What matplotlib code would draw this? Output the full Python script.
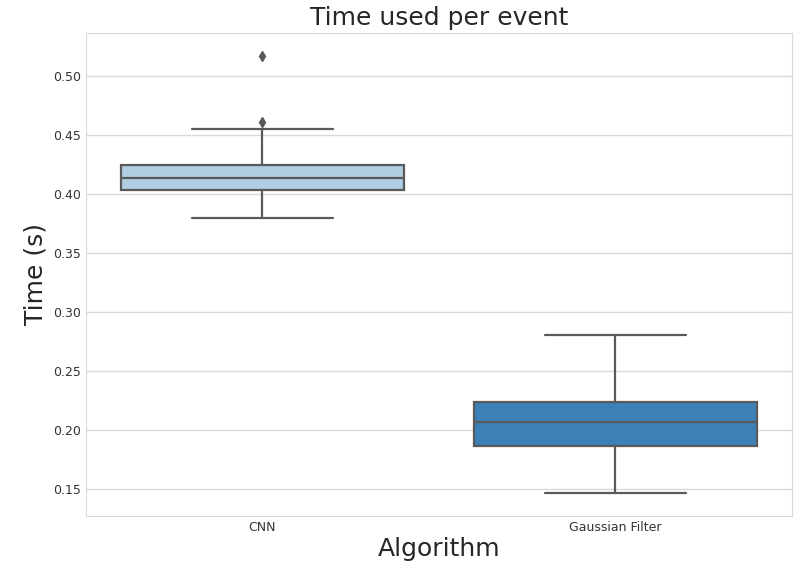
import matplotlib
matplotlib.use("Agg")
import matplotlib.pyplot as plt
import seaborn as sns

algorithms = ["CNN", "Gaussian Filter"]
q1 = [0.4034, 0.1864]
medians = [0.4136, 0.2068]
q3 = [0.4246, 0.2237]
whislo = [0.3797, 0.1466]
whishi = [0.4550, 0.2805]
outliers = [[0.4612, 0.5165], []]
box_colors = ["#b0cde2", "#3b80b6"]


def run():
    sns.set_style("whitegrid")
    plt.rcParams['font.family'] = ['DejaVu Sans']
    fig, ax = plt.subplots(figsize=(7.94, 5.67), dpi=100)
    stats = []
    for i, name in enumerate(algorithms):
        stats.append(dict(label=name, q1=q1[i], med=medians[i], q3=q3[i],
                          whislo=whislo[i], whishi=whishi[i], fliers=outliers[i]))
    line_color = "#5a5a5a"
    bp = ax.bxp(stats, positions=range(len(algorithms)), widths=0.8,
                patch_artist=True, showfliers=True,
                boxprops=dict(edgecolor=line_color, linewidth=1.6),
                medianprops=dict(color=line_color, linewidth=1.6),
                whiskerprops=dict(color=line_color, linewidth=1.6),
                capprops=dict(color=line_color, linewidth=1.6),
                flierprops=dict(marker="d", markerfacecolor=line_color,
                                markeredgecolor=line_color, markersize=5))
    for patch, c in zip(bp["boxes"], box_colors):
        patch.set_facecolor(c)
    ax.set_xlim(-0.5, 1.5)
    ax.set_ylim(0.1271, 0.5364)
    ax.xaxis.grid(False)
    ax.yaxis.grid(True, color="#d9d9d9", linewidth=1)
    ax.set_axisbelow(True)
    for s in ax.spines.values():
        s.set_color("#d9d9d9")
    ax.tick_params(axis="both", labelsize=9, length=0, colors="#333333")
    ax.set_title("Time used per event", fontsize=18, color="#262626")
    ax.set_xlabel("Algorithm", fontsize=18, color="#262626", labelpad=2)
    ax.set_ylabel("Time (s)", fontsize=18, color="#262626")
    fig.subplots_adjust(left=0.108, right=0.9975, top=0.942, bottom=0.090)
    fig.savefig("out.png", dpi=100)


if __name__ == '__main__':
    run()
